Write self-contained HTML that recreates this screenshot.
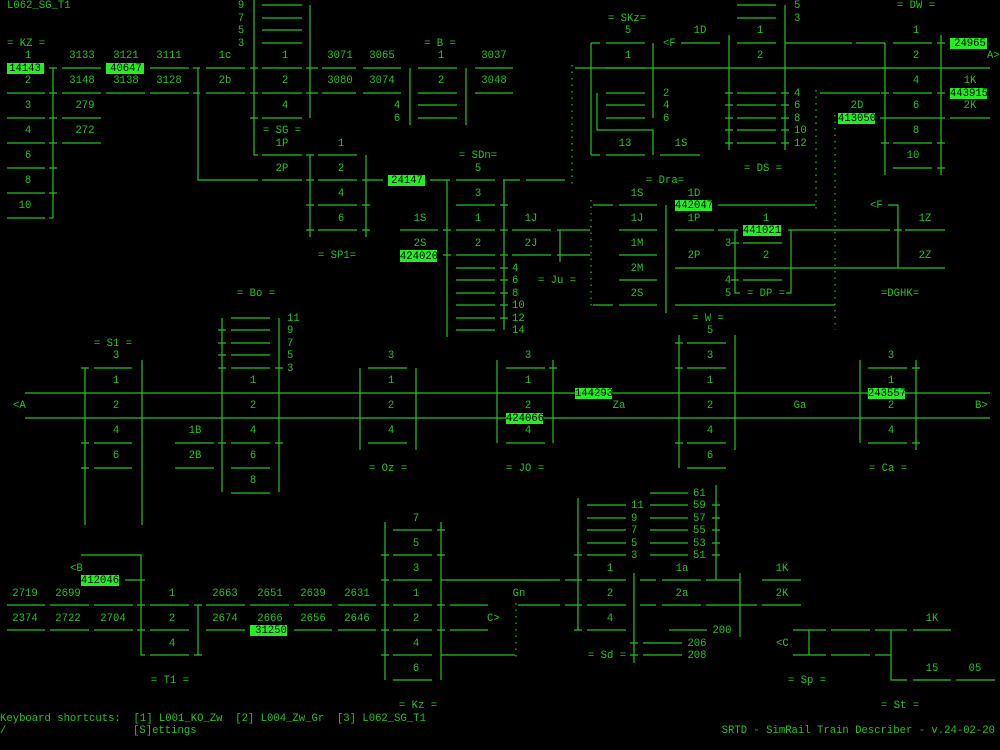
<!DOCTYPE html>
<html><head><meta charset="utf-8"><style>
html,body{margin:0;padding:0;background:#000;width:1000px;height:750px;overflow:hidden}
svg{display:block}
text{font-family:"Liberation Mono",monospace;font-size:10.6px;fill:#22c422;dominant-baseline:central;transform:translateY(1px)}
.m{text-anchor:middle}
.hl{fill:#22ee22}
.k{fill:#000;text-anchor:middle}
line,path{stroke:#22c422;stroke-width:1.2;fill:none}
.d{stroke-dasharray:1.5 5}
</style></head><body>
<svg width="1000" height="750" viewBox="0 0 1000 750" xmlns="http://www.w3.org/2000/svg">
<rect class="hl" x="7" y="63" width="37" height="11"/>
<rect class="hl" x="106" y="63" width="38" height="11"/>
<rect class="hl" x="388" y="175" width="37" height="11"/>
<rect class="hl" x="400" y="250" width="37" height="12"/>
<rect class="hl" x="950" y="38" width="37" height="11"/>
<rect class="hl" x="950" y="88" width="37" height="11"/>
<rect class="hl" x="838" y="113" width="37" height="11"/>
<rect class="hl" x="675" y="200" width="37" height="11"/>
<rect class="hl" x="743" y="225" width="38" height="11"/>
<rect class="hl" x="575" y="388" width="37" height="11"/>
<rect class="hl" x="506" y="413" width="37" height="11"/>
<rect class="hl" x="868" y="388" width="37" height="11"/>
<rect class="hl" x="81" y="575" width="38" height="11"/>
<rect class="hl" x="250" y="625" width="37" height="11"/>

<path d="M7 93H45M7 118H45M7 143H45M7 168H45M7 193H45M7 218H45M53 68V218M49 68H57M49 93H57M49 118H57M49 143H57M49 168H57M49 193H57M49 218H53"/>
<path d="M62 68H101M62 93H101M62 118H101M62 143H101M150 68H189M106 93H145M150 93H189"/>
<path d="M193 68H200M206 68H245M193 93H200M206 93H245M198 68V180H258M262 180H302"/>
<path d="M254 0V155H258M262 5H302M262 18H302M262 30H302M262 43H302M262 68H302M262 93H302M262 118H302M262 155H302M310 5V118M250 68H258M250 93H258M250 118H258M306 68H318M306 93H318"/>
<path d="M310 155V237M366 155V237M318 155H357M318 180H357M318 205H357M318 230H357M306 155H314M306 180H314M306 205H314M306 230H314M362 180H383M362 205H370M362 230H370"/>
<path d="M322 68H356M363 68H401M322 93H356M363 93H401M410 68V125M466 68V125M418 68H457M418 93H457M418 105H457M418 118H457M475 68H513M475 93H513"/>
<path d="M430 180H450M456 180H495M503 180H520M526 180H565M447 180V337M504 180V330M456 205H495M456 230H495M456 255H495M456 268H495M456 280H495M456 293H495M456 305H495M456 318H495M456 330H495M400 230H438M443 230H451M443 255H451M500 205H508M500 230H508M500 255H508M500 268H508M500 280H508M500 293H508M500 305H508M500 318H508"/>
<path d="M512 230H551M512 255H551M557 230H590M557 255H590M560 230V262"/>
<line class="d" x1="572" y1="65" x2="572" y2="186"/>
<line class="d" x1="591" y1="200" x2="591" y2="310"/>
<path d="M591 43V155M591 43H600M606 43H645M606 68H645M606 93H645M606 105H645M606 118H645M591 155H600M606 155H645M653 43V118M597 93V130H653V155M660 155H700"/>
<path d="M575 68H990"/>
<path d="M681 43H720M729 35V150M737 5H776M737 18H776M737 43H776M737 93H776M737 105H776M737 118H776M737 130H776M737 143H776M785 5V150M725 93H733M725 105H733M725 118H733M725 130H733M725 143H733M781 93H789M781 105H789M781 118H789M781 130H789M781 143H789"/>
<path d="M785 43H852M856 43H885M885 43V175M893 43H932M893 93H932M893 118H932M893 143H932M893 168H932M941 35V175M881 68H889M881 93H889M881 118H889M881 143H889M937 143H945M937 168H945M937 43H945M937 93H945M950 118H990M820 93H880M880 118H945"/>
<line class="d" x1="816" y1="90" x2="816" y2="210"/>
<line class="d" x1="835" y1="115" x2="835" y2="330"/>
<path d="M593 205H613M619 205H657M619 230H657M619 255H657M619 280H657M593 305H613M619 305H657M666 205V313M718 205H815M675 230H714M718 230H738M675 268H945M675 305H835"/>
<path d="M735 230V293H740M743 243H782M743 280H782M791 230V293H786M788 230H890M731 243H739M731 280H739"/>
<path d="M888 205H898V268M905 230H945M894 230H902"/>
<path d="M25 393H990M25 418H990"/>
<path d="M85 368V525M142 360V525M94 368H132M94 443H132M94 468H132M81 368H89M81 443H89M81 468H89"/>
<path d="M175 443H214M175 468H214"/>
<path d="M222 318V492M279 318V492M231 318H270M231 330H270M231 343H270M231 355H270M231 368H270M231 443H270M231 468H270M231 493H270M218 330H226M218 343H226M218 355H226M218 368H226M275 368H283M275 443H283M218 443H226"/>
<path d="M360 368V450M416 368V450M368 368H407M368 443H407"/>
<path d="M497 360V443M553 360V443M506 368H545M506 443H545M549 368H557"/>
<path d="M679 335V468M735 335V450M687 343H726M687 368H726M687 443H726M687 468H726M675 343H683M675 368H683M675 443H683"/>
<path d="M860 360V443M916 360V450M868 368H907M868 443H907M912 368H920M912 443H920"/>
<path d="M81 555H141V655H145M125 580H145M7 605H45M50 605H89M94 605H133M7 630H45M50 630H89M94 630H133M150 605H189M150 630H189M150 655H189M198 605V655M137 605H145M137 630H145M194 605H202M194 655H202"/>
<path d="M206 605H245M250 605H289M294 605H332M338 605H376M206 630H245M294 630H332M338 630H376"/>
<path d="M385 522V680M441 522V680M393 530H432M393 555H432M393 580H432M393 605H432M393 630H432M393 655H432M393 680H432M381 555H389M381 580H389M381 605H389M381 630H389M381 655H389M437 530H445M437 555H445M437 605H445M437 630H445"/>
<path d="M441 580H560M450 605H488M518 605H560M450 630H488M441 655H515M565 580H575M565 605H575"/>
<line class="d" x1="516" y1="603" x2="516" y2="660"/>
<path d="M578 498V630M587 505H626M587 518H626M587 530H626M587 543H626M587 555H626M587 580H626M587 605H626M587 630H626M574 555H582M574 580H582M574 605H582M574 630H582M634 573V663M640 580H656M640 605H656M650 493H688M650 505H688M650 518H688M650 530H688M650 543H688M650 555H688M716 485V580M712 505H720M712 518H720M712 530H720M712 543H720M712 555H720"/>
<path d="M662 580H701M706 580H740M662 605H701M706 605H757M669 630H707M740 573V637M643 643H682M643 655H682M762 580H801M762 605H801M630 643H638M630 655H638"/>
<path d="M793 630H826M831 630H870M875 630H907M913 630H951M809 630V655M793 655H826M831 655H870M875 655H891M891 630V680H907M913 680H951M956 680H995"/>

<text x="7" y="5">L062_SG_T1</text>
<text x="7" y="43">= KZ =</text>
<text class="m" x="28" y="55">1</text><text class="k" x="25" y="68">14143</text>
<text class="m" x="28" y="80">2</text><text class="m" x="28" y="105">3</text><text class="m" x="28" y="130">4</text>
<text class="m" x="28" y="155">6</text><text class="m" x="28" y="180">8</text><text class="m" x="25" y="205">10</text>
<text class="m" x="82" y="55">3133</text><text class="m" x="82" y="80">3148</text><text class="m" x="85" y="105">279</text><text class="m" x="85" y="130">272</text>
<text class="m" x="126" y="55">3121</text><text class="k" x="126" y="68">40647</text><text class="m" x="126" y="80">3138</text>
<text class="m" x="169" y="55">3111</text><text class="m" x="169" y="80">3128</text>
<text class="m" x="225" y="55">1c</text><text class="m" x="225" y="80">2b</text>
<text class="m" x="241" y="5">9</text><text class="m" x="241" y="18">7</text><text class="m" x="241" y="30">5</text><text class="m" x="241" y="43">3</text>
<text class="m" x="285" y="55">1</text><text class="m" x="285" y="80">2</text><text class="m" x="285" y="105">4</text>
<text class="m" x="282" y="130">= SG =</text><text class="m" x="282" y="143">1P</text><text class="m" x="282" y="168">2P</text>
<text class="m" x="341" y="143">1</text><text class="m" x="341" y="168">2</text><text class="m" x="341" y="193">4</text><text class="m" x="341" y="218">6</text>
<text class="m" x="337" y="255">= SP1=</text>
<text class="m" x="340" y="55">3071</text><text class="m" x="340" y="80">3080</text>
<text class="m" x="382" y="55">3065</text><text class="m" x="382" y="80">3074</text>
<text class="m" x="397" y="105">4</text><text class="m" x="397" y="118">6</text>
<text class="m" x="440" y="43">=  B =</text><text class="m" x="441" y="55">1</text><text class="m" x="441" y="80">2</text>
<text class="m" x="494" y="55">3037</text><text class="m" x="494" y="80">3048</text>
<text class="k" x="407" y="180">24147</text>
<text class="m" x="478" y="155">= SDn=</text><text class="m" x="478" y="168">5</text>
<text class="m" x="478" y="193">3</text><text class="m" x="478" y="218">1</text><text class="m" x="478" y="243">2</text>
<text x="512" y="268">4</text><text x="512" y="280">6</text><text x="512" y="293">8</text><text x="512" y="305">10</text><text x="512" y="318">12</text><text x="512" y="330">14</text>
<text class="m" x="420" y="218">1S</text><text class="m" x="420" y="243">2S</text><text class="k" x="419" y="256">424020</text>
<text class="m" x="531" y="218">1J</text><text class="m" x="531" y="243">2J</text>
<text class="m" x="557" y="280">= Ju =</text>
<text class="m" x="627" y="18">= SKz=</text><text class="m" x="628" y="30">5</text><text class="m" x="628" y="55">1</text><text class="m" x="625" y="143">13</text>
<text x="663" y="93">2</text><text x="663" y="105">4</text><text x="663" y="118">6</text>
<text class="m" x="681" y="143">1S</text>
<text x="663" y="43">&lt;F</text><text class="m" x="700" y="30">1D</text>
<text class="m" x="760" y="30">1</text><text class="m" x="760" y="55">2</text>
<text x="794" y="5">5</text><text x="794" y="18">3</text>
<text x="794" y="93">4</text><text x="794" y="105">6</text><text x="794" y="118">8</text><text x="794" y="130">10</text><text x="794" y="143">12</text>
<text class="m" x="763" y="168">= DS =</text>
<text class="m" x="916" y="5">= DW =</text>
<text class="m" x="916" y="30">1</text><text class="m" x="916" y="55">2</text><text class="m" x="916" y="80">4</text><text class="m" x="916" y="105">6</text><text class="m" x="916" y="130">8</text><text class="m" x="913" y="155">10</text>
<text class="k" x="970" y="43">24965</text><text x="987" y="55">A&gt;</text>
<text class="m" x="970" y="80">1K</text><text class="k" x="969" y="93">443915</text><text class="m" x="970" y="105">2K</text>
<text class="m" x="857" y="105">2D</text><text class="k" x="857" y="118">413050</text>
<text class="m" x="665" y="180">= Dra=</text>
<text class="m" x="637" y="193">1S</text><text class="m" x="637" y="218">1J</text><text class="m" x="637" y="243">1M</text><text class="m" x="637" y="268">2M</text><text class="m" x="637" y="293">2S</text>
<text class="m" x="694" y="193">1D</text><text class="k" x="694" y="205">442047</text><text class="m" x="694" y="218">1P</text><text class="m" x="694" y="255">2P</text>
<text class="m" x="766" y="218">1</text><text class="k" x="762" y="230">441021</text><text class="m" x="766" y="255">2</text>
<text class="m" x="728" y="243">3</text><text class="m" x="728" y="280">4</text><text class="m" x="728" y="293">5</text>
<text class="m" x="766" y="293">= DP =</text>
<text x="870" y="205">&lt;F</text><text class="m" x="925" y="218">1Z</text><text class="m" x="925" y="255">2Z</text>
<text class="m" x="900" y="293">=DGHK=</text>
<text class="m" x="256" y="293">= Bo =</text>
<text x="287" y="318">11</text><text x="287" y="330">9</text><text x="287" y="343">7</text><text x="287" y="355">5</text><text x="287" y="368">3</text>
<text class="m" x="253" y="380">1</text><text class="m" x="253" y="405">2</text><text class="m" x="253" y="430">4</text><text class="m" x="253" y="455">6</text><text class="m" x="253" y="480">8</text>
<text class="m" x="113" y="343">= S1 =</text><text class="m" x="116" y="355">3</text>
<text class="m" x="116" y="380">1</text><text class="m" x="116" y="405">2</text><text class="m" x="116" y="430">4</text><text class="m" x="116" y="455">6</text>
<text x="13" y="405">&lt;A</text>
<text class="m" x="195" y="430">1B</text><text class="m" x="195" y="455">2B</text>
<text class="m" x="391" y="355">3</text><text class="m" x="391" y="380">1</text><text class="m" x="391" y="405">2</text><text class="m" x="391" y="430">4</text>
<text class="m" x="388" y="468">= Oz =</text>
<text class="m" x="528" y="355">3</text><text class="m" x="528" y="380">1</text><text class="m" x="528" y="405">2</text><text class="k" x="525" y="418">424066</text><text class="m" x="528" y="430">4</text>
<text class="m" x="525" y="468">= JO =</text>
<text class="k" x="594" y="393">144293</text><text class="m" x="619" y="405">Za</text>
<text class="m" x="708" y="318">=  W =</text><text class="m" x="710" y="330">5</text>
<text class="m" x="710" y="355">3</text><text class="m" x="710" y="380">1</text><text class="m" x="710" y="405">2</text><text class="m" x="710" y="430">4</text><text class="m" x="710" y="455">6</text>
<text class="m" x="800" y="405">Ga</text>
<text class="m" x="891" y="355">3</text><text class="m" x="891" y="380">1</text><text class="k" x="887" y="393">243557</text><text class="m" x="891" y="405">2</text><text class="m" x="891" y="430">4</text>
<text class="m" x="888" y="468">= Ca =</text>
<text x="975" y="405">B&gt;</text>
<text x="70" y="568">&lt;B</text><text class="k" x="100" y="580">412046</text>
<text class="m" x="25" y="593">2719</text><text class="m" x="68" y="593">2699</text>
<text class="m" x="25" y="618">2374</text><text class="m" x="68" y="618">2722</text><text class="m" x="113" y="618">2704</text>
<text class="m" x="172" y="593">1</text><text class="m" x="172" y="618">2</text><text class="m" x="172" y="643">4</text>
<text class="m" x="170" y="680">= T1 =</text>
<text class="m" x="225" y="593">2663</text><text class="m" x="270" y="593">2651</text><text class="m" x="313" y="593">2639</text><text class="m" x="357" y="593">2631</text>
<text class="m" x="225" y="618">2674</text><text class="m" x="270" y="618">2666</text><text class="m" x="313" y="618">2656</text><text class="m" x="357" y="618">2646</text>
<text class="k" x="271" y="630">31250</text>
<text class="m" x="416" y="518">7</text><text class="m" x="416" y="543">5</text><text class="m" x="416" y="568">3</text><text class="m" x="416" y="593">1</text><text class="m" x="416" y="618">2</text><text class="m" x="416" y="643">4</text><text class="m" x="416" y="668">6</text>
<text class="m" x="418" y="705">= Kz =</text>
<text x="487" y="618">C&gt;</text><text class="m" x="519" y="593">Gn</text>
<text x="631" y="505">11</text><text x="631" y="518">9</text><text x="631" y="530">7</text><text x="631" y="543">5</text><text x="631" y="555">3</text>
<text x="693" y="493">61</text><text x="693" y="505">59</text><text x="693" y="518">57</text><text x="693" y="530">55</text><text x="693" y="543">53</text><text x="693" y="555">51</text>
<text class="m" x="610" y="568">1</text><text class="m" x="610" y="593">2</text><text class="m" x="610" y="618">4</text>
<text class="m" x="682" y="568">1a</text><text class="m" x="682" y="593">2a</text>
<text class="m" x="722" y="630">200</text><text class="m" x="697" y="643">206</text><text class="m" x="697" y="655">208</text>
<text class="m" x="607" y="655">= Sd =</text>
<text class="m" x="782" y="568">1K</text><text class="m" x="782" y="593">2K</text>
<text class="m" x="932" y="618">1K</text><text x="776" y="643">&lt;C</text>
<text class="m" x="932" y="668">15</text><text class="m" x="975" y="668">05</text>
<text class="m" x="807" y="680">= Sp =</text><text class="m" x="900" y="705">= St =</text>
<text x="0" y="718" xml:space="preserve">Keyboard shortcuts:  [1] L001_KO_Zw  [2] L004_Zw_Gr  [3] L062_SG_T1</text>
<text x="0" y="730">/</text><text x="133" y="730">[S]ettings</text>
<text x="995" y="730" style="text-anchor:end">SRTD - SimRail Train Describer - v.24-02-20</text>
</svg>
</body></html>
